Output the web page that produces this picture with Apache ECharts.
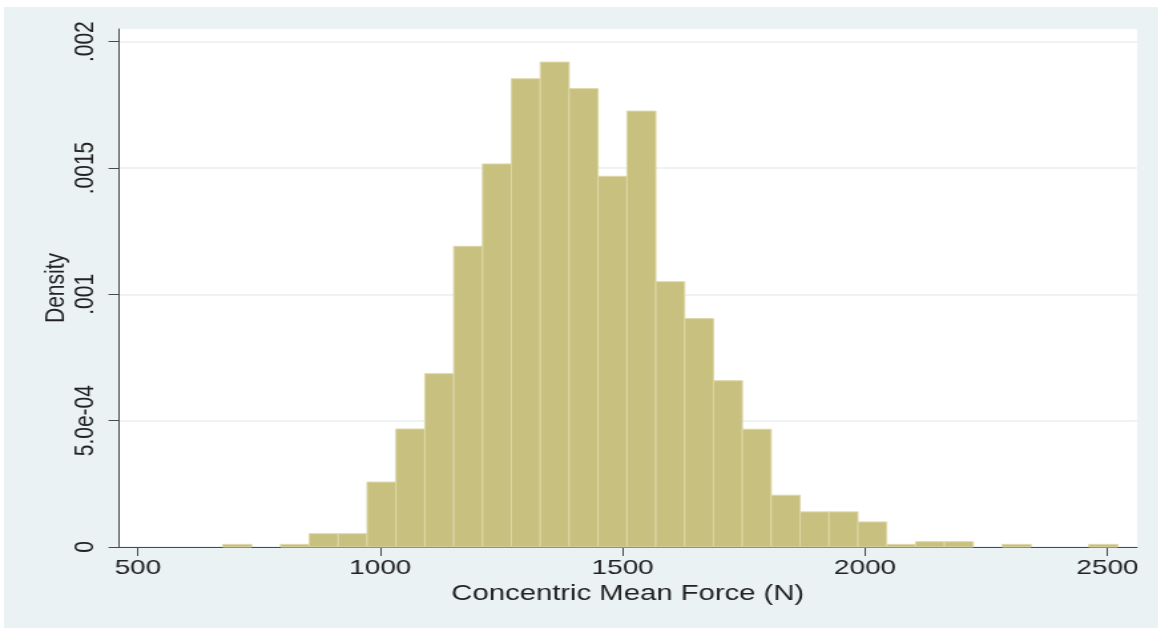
<!DOCTYPE html>
<html>
<head>
<meta charset="utf-8">
<script src="https://cdn.jsdelivr.net/npm/echarts@6.0.0/dist/echarts.min.js"></script>
<style>
  html, body { margin: 0; padding: 0; background: #ffffff; }
  /* the reference picture is stretched sideways, so the chart is drawn narrow and scaled */
  #wrap { position: absolute; left: 4px; top: 7px; width: 868px; height: 621px;
          transform: scaleX(1.33); transform-origin: 0 0; }
  #chart { width: 868px; height: 621px; }
</style>
</head>
<body>
<div id="wrap"><div id="chart"></div></div>
<script>
// histogram bins (Concentric Mean Force, N)
var binStart = 675;
var binWidth = 59.55;
var density = [
  0.0000105, 0, 0.0000105, 0.0000525, 0.0000525,
  0.000257, 0.000467, 0.000686, 0.00119, 0.001516,
  0.001853, 0.001919, 0.001814, 0.001467, 0.001725,
  0.00105, 0.000904, 0.000658, 0.000466, 0.000205,
  0.000139, 0.000139, 0.0000991, 0.0000105, 0.000021,
  0.000021, 0, 0.0000105, 0, 0,
  0.0000105
];
var xTicks = [500, 1000, 1500, 2000, 2500];
var yTicks = [0, 0.0005, 0.001, 0.0015, 0.002];
var yTickLabels = ['0', '5.0e-04', '.001', '.0015', '.002'];

var rows = [];
for (var i = 0; i < density.length; i++) {
  var lo = binStart + i * binWidth;
  rows.push([lo, lo + binWidth, density[i]]);
}

var myChart = echarts.init(document.getElementById('chart'));

var font = 'Liberation Sans, Arial, Helvetica, sans-serif';

var option = {
  backgroundColor: '#eaf2f3',
  animation: false,
  grid: { left: 86.1, right: 16.1, top: 22, bottom: 81, containLabel: false,
          show: true, backgroundColor: '#ffffff', borderWidth: 0 },
  xAxis: {
    type: 'value',
    min: 460,
    max: 2561,
    name: 'Concentric Mean Force (N)',
    nameLocation: 'middle',
    nameGap: 36,
    nameMoveOverlap: false,
    nameTextStyle: { fontFamily: font, fontSize: 22, color: '#222' },
    axisLine: { show: true, lineStyle: { color: '#4a4a4a', width: 1 } },
    axisTick: { show: true, length: 9, customValues: xTicks, lineStyle: { color: '#4a4a4a' } },
    axisLabel: {
      customValues: xTicks,
      margin: 11,
      fontFamily: font,
      fontSize: 21,
      color: '#222',
      formatter: function (v) { return String(v); }
    },
    splitLine: { show: false }
  },
  yAxis: {
    type: 'value',
    min: 0,
    max: 0.00205,
    interval: 0.0005,
    name: 'Density',
    nameLocation: 'middle',
    nameGap: 36,
    nameRotate: 90,
    nameMoveOverlap: false,
    nameTextStyle: { fontFamily: font, fontSize: 21, color: '#222' },
    axisLine: { show: true, lineStyle: { color: '#4a4a4a', width: 1 } },
    axisTick: { show: true, length: 7.5, customValues: yTicks, lineStyle: { color: '#4a4a4a' } },
    axisLabel: {
      customValues: yTicks,
      rotate: 90,
      margin: 14,
      fontFamily: font,
      fontSize: 21,
      color: '#222',
      formatter: function (v) {
        for (var k = 0; k < yTicks.length; k++) {
          if (Math.abs(v - yTicks[k]) < 1e-9) return yTickLabels[k];
        }
        return '';
      }
    },
    splitLine: { show: true, lineStyle: { color: '#e8f0f2', width: 1.5 } }
  },
  series: [{
    type: 'custom',
    data: rows,
    encode: { x: [0, 1], y: 2 },
    renderItem: function (params, api) {
      var h = api.value(2);
      if (h <= 0) return null;
      var p0 = api.coord([api.value(0), h]);
      var p1 = api.coord([api.value(1), 0]);
      return {
        type: 'rect',
        shape: { x: p0[0], y: p0[1], width: p1[0] - p0[0], height: p1[1] - p0[1] },
        style: { fill: '#c8c07e', stroke: '#ddd7a9', lineWidth: 1 }
      };
    }
  }]
};

myChart.setOption(option);
</script>
</body>
</html>
